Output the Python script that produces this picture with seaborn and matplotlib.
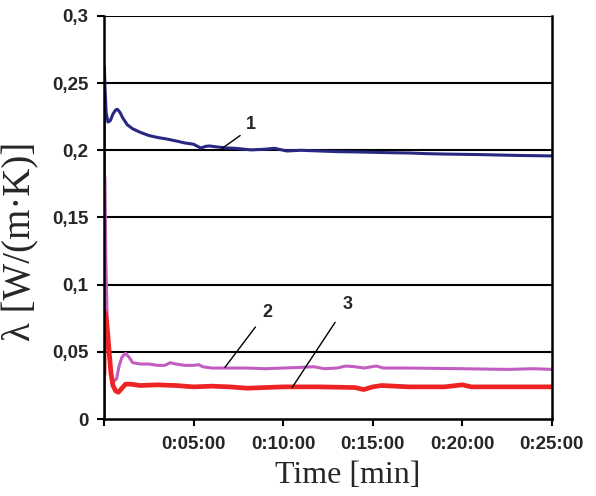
import matplotlib
matplotlib.use("Agg")
import matplotlib.pyplot as plt
import seaborn as sns
import pandas as pd

# curve 1 (top, dark blue)
t1 = [0, 0.02, 0.06, 0.12, 0.22, 0.35, 0.5, 0.65, 0.75, 0.9, 1.05, 1.3, 1.6, 2.0, 2.5, 3.0, 3.5,
      4.0, 4.5, 5.0, 5.4, 5.7, 5.9, 6.3, 6.85, 7.3, 8.2, 9.0, 9.5, 10.2, 11, 12, 13, 14, 15,
      16, 17, 18, 19, 20, 21, 22, 23, 24, 25]
v1 = [0.0, 0.262, 0.245, 0.228, 0.221, 0.222, 0.227, 0.230, 0.2305, 0.228, 0.224, 0.219, 0.216,
      0.2135, 0.211, 0.2095, 0.2084, 0.207, 0.2055, 0.2045, 0.2017, 0.203, 0.2032, 0.2025, 0.2017,
      0.2015, 0.2003, 0.2008, 0.2015, 0.1995, 0.2, 0.1995, 0.199, 0.1988, 0.1985, 0.1982, 0.198,
      0.1975, 0.1972, 0.197, 0.1968, 0.1965, 0.1962, 0.196, 0.1958]

# curve 2 (middle, magenta)
t2 = [0.05, 0.1, 0.2, 0.35, 0.55, 0.7, 0.85, 1.0, 1.2, 1.4, 1.6, 2.0, 2.5, 3.0, 3.4, 3.7, 4.0,
      4.5, 5.0, 5.3, 5.5, 6.0, 7.0, 8.0, 9.0, 10.0, 11.0, 11.7, 12.3, 13.0, 13.5, 14.0, 14.5,
      15.2, 15.6, 17.0, 20.0, 22.5, 24.0, 25.0]
v2 = [0.18, 0.12, 0.06, 0.035, 0.028, 0.030, 0.040, 0.046, 0.049, 0.046, 0.042, 0.041, 0.041,
      0.040, 0.040, 0.042, 0.041, 0.040, 0.040, 0.0405, 0.039, 0.038, 0.038, 0.038, 0.0375,
      0.038, 0.0385, 0.039, 0.0375, 0.038, 0.0395, 0.039, 0.038, 0.0395, 0.038, 0.038, 0.0375,
      0.037, 0.0375, 0.037]

# curve 3 (bottom, red)
t3 = [0.0, 0.02, 0.1, 0.2, 0.3, 0.4, 0.5, 0.65, 0.8, 1.0, 1.2, 1.5, 2.0, 3.0, 4.0, 5.0, 6.0,
      7.0, 8.0, 9.0, 10.0, 12.0, 14.0, 14.5, 15.0, 15.5, 17.0, 19.0, 20.0, 20.5, 22.0, 25.0]
v3 = [0.033, 0.08, 0.078, 0.065, 0.048, 0.033, 0.025, 0.021, 0.020, 0.023, 0.026, 0.026, 0.025,
      0.0255, 0.025, 0.024, 0.0245, 0.024, 0.023, 0.0235, 0.024, 0.024, 0.0235, 0.022, 0.024,
      0.025, 0.024, 0.024, 0.0255, 0.024, 0.024, 0.024]

y_ticks = [0, 0.05, 0.1, 0.15, 0.2, 0.25, 0.3]
y_labels = ["0", "0,05", "0,1", "0,15", "0,2", "0,25", "0,3"]
x_ticks = [0, 5, 10, 15, 20, 25]
x_labels = ["", "0:05:00", "0:10:00", "0:15:00", "0:20:00", "0:25:00"]

# curve labels: (text, text position, line start, line end)
notes = [("1", (8.2, 0.219), (7.6, 0.211), (6.6, 0.2015)),
         ("2", (9.1, 0.079), (8.45, 0.0685), (6.75, 0.0385)),
         ("3", (13.6, 0.085), (12.9, 0.072), (10.5, 0.0235))]

sns.set_style("white")
plt.rcParams['font.family'] = ['Liberation Sans', 'DejaVu Sans']

fig = plt.figure(figsize=(5.96, 4.96), dpi=100)
ax = fig.add_axes([0.1745, 0.155, 0.7515, 0.813])

df1 = pd.DataFrame({"t": t1, "v": v1})
df2 = pd.DataFrame({"t": t2, "v": v2})
df3 = pd.DataFrame({"t": t3, "v": v3})
sns.lineplot(data=df1, x="t", y="v", ax=ax, color="#262882", lw=2.2, sort=False, estimator=None)
sns.lineplot(data=df2, x="t", y="v", ax=ax, color="#c25dc2", lw=2.2, sort=False, estimator=None)
sns.lineplot(data=df3, x="t", y="v", ax=ax, color="#ee2424", lw=3.4, sort=False, estimator=None)

for txt, pos, p0, p1 in notes:
    ax.plot([p0[0], p1[0]], [p0[1], p1[1]], color="black", lw=1.0)
    ax.text(pos[0], pos[1], txt, fontsize=13, fontweight="bold", ha="center", va="center")

ax.set_xlim(0, 25)
ax.set_ylim(0, 0.3)
ax.set_yticks(y_ticks)
ax.set_yticklabels(y_labels, fontsize=13.5, fontweight="bold")
ax.set_xticks(x_ticks)
ax.set_xticklabels(x_labels, fontsize=13.5, fontweight="bold")
ax.tick_params(axis="both", direction="out", length=5, width=1.5, color="black", pad=6,
               left=True, bottom=True)
ax.tick_params(axis="x", pad=7)
for y in y_ticks[1:]:
    ax.axhline(y, color="black", lw=1.5, zorder=0)
for side in ["left", "bottom", "right"]:
    ax.spines[side].set_color("black")
    ax.spines[side].set_linewidth(1.8)
ax.spines["top"].set_visible(False)

ax.set_xlabel("Time [min]", fontsize=23, family="Liberation Serif")
ax.set_ylabel("λ [W/(m·K)]", fontsize=28, family="Liberation Serif")
ax.xaxis.set_label_coords(0.545, -0.105)
ax.yaxis.set_label_coords(-0.145, 0.44)

fig.savefig("out.png", dpi=100)
